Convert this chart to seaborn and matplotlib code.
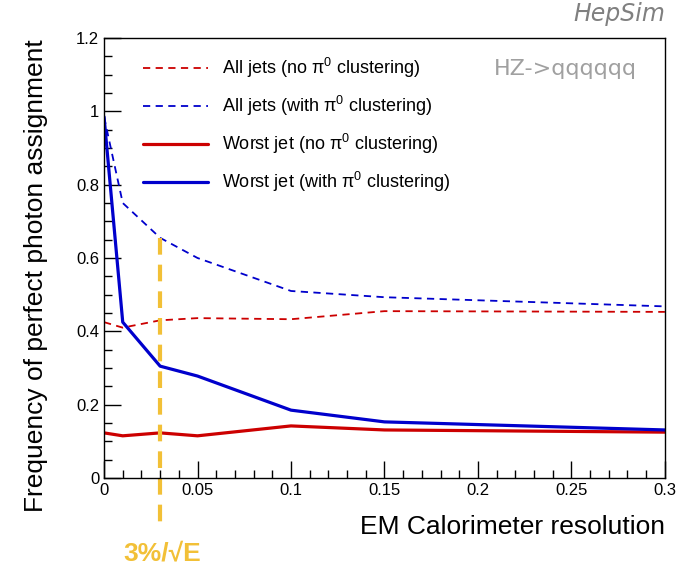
import pandas as pd
import matplotlib.pyplot as plt
import seaborn as sns
from matplotlib.ticker import MultipleLocator

# data
resolution = [0.0, 0.01, 0.03, 0.05, 0.1, 0.15, 0.3]
all_no_pi0 = [0.425, 0.41, 0.43, 0.436, 0.433, 0.455, 0.453]
all_with_pi0 = [0.985, 0.75, 0.655, 0.60, 0.51, 0.493, 0.468]
worst_no_pi0 = [0.123, 0.115, 0.123, 0.115, 0.142, 0.131, 0.125]
worst_with_pi0 = [0.985, 0.425, 0.305, 0.278, 0.185, 0.153, 0.131]

labels = ["All jets (no π$^0$ clustering)",
          "All jets (with π$^0$ clustering)",
          "Worst jet (no π$^0$ clustering)",
          "Worst jet (with π$^0$ clustering)"]
series = [all_no_pi0, all_with_pi0, worst_no_pi0, worst_with_pi0]

marker_res = 0.03
marker_top = 0.655

df = pd.concat([pd.DataFrame({"res": resolution, "freq": v, "label": l})
                for l, v in zip(labels, series)])

sns.set_theme(style="white")
plt.rcParams['font.family'] = ['Liberation Sans', 'DejaVu Sans']
plt.rcParams['mathtext.fontset'] = 'custom'
plt.rcParams['mathtext.rm'] = 'Liberation Sans'
plt.rcParams['mathtext.it'] = 'Liberation Sans:italic'
plt.rcParams['text.color'] = 'black'
plt.rcParams['axes.labelcolor'] = 'black'

red = '#cc0000'
blue = '#0000cc'
yellow = '#f2c037'
styles = {labels[0]: (red, '--', 1.3),
          labels[1]: (blue, '--', 1.3),
          labels[2]: (red, '-', 2.3),
          labels[3]: (blue, '-', 2.3)}

fig = plt.figure(figsize=(6.89, 5.67), dpi=100)
ax = fig.add_axes([0.151, 0.157, 0.814, 0.776])

for lab in labels:
    c, ls, lw = styles[lab]
    sns.lineplot(data=df[df["label"] == lab], x="res", y="freq", color=c,
                 linestyle=ls, linewidth=lw, label=lab, ax=ax)
    if ls == '--':
        ax.lines[-1].set_dashes((4, 3))

# resolution marker
ax.plot([marker_res, marker_res], [marker_top, -0.142], color=yellow,
        linewidth=3, dashes=(4, 2.4), clip_on=False)
ax.text(marker_res + 0.001, -0.205, "3%/√E", color=yellow,
        fontsize=19, fontweight='bold', ha='center', va='center')

ax.set_xlim(0, 0.3)
ax.set_ylim(0, 1.2)
ax.xaxis.set_minor_locator(MultipleLocator(0.01))
ax.yaxis.set_minor_locator(MultipleLocator(0.05))
ax.tick_params(which='both', direction='in', top=False, right=False,
               bottom=True, left=True, colors='black', labelsize=12)
ax.tick_params(which='major', length=12, width=1)
ax.tick_params(which='minor', length=6, width=1)
ax.set_xticks([0, 0.05, 0.1, 0.15, 0.2, 0.25, 0.3])
ax.set_xticklabels(['0', '0.05', '0.1', '0.15', '0.2', '0.25', '0.3'])
ax.set_yticks([0, 0.2, 0.4, 0.6, 0.8, 1.0, 1.2])
ax.set_yticklabels(['0', '0.2', '0.4', '0.6', '0.8', '1', '1.2'])
for s in ax.spines.values():
    s.set_color('black')
    s.set_linewidth(1)

ax.set_xlabel("EM Calorimeter resolution", fontsize=19, ha='right')
ax.xaxis.set_label_coords(1.0, -0.084)
ax.set_ylabel("Frequency of perfect photon assignment", fontsize=19)
ax.yaxis.set_label_coords(-0.100, 0.459)

ax.legend(loc='upper left', bbox_to_anchor=(0.04, 0.996), frameon=False,
          fontsize=13, handlelength=3.6, labelspacing=0.77, handletextpad=0.78)

ax.text(0.95, 0.93, "HZ->qqqqqq", transform=ax.transAxes, color='#a0a0a0',
        fontsize=16, ha='right', va='center', family='DejaVu Sans')
fig.text(0.965, 0.975, "HepSim", color='#808080', fontsize=17,
         style='italic', ha='right', va='center', family='DejaVu Sans')

plt.savefig("out.png", dpi=100)
plt.close()
